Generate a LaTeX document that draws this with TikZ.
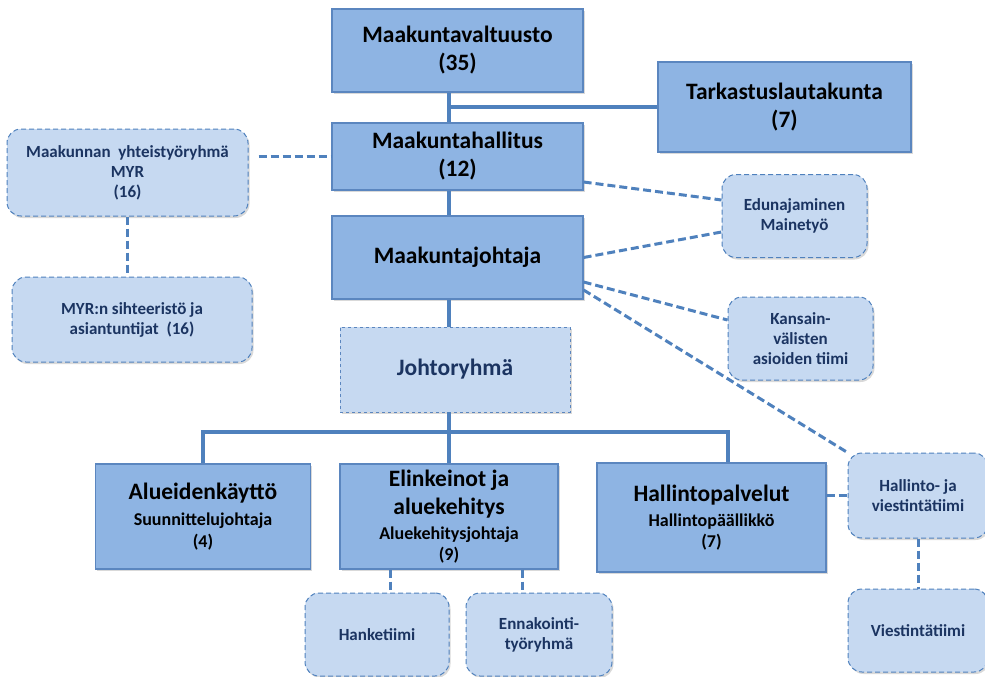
\documentclass[tikz,border=0pt]{standalone}
\usepackage{fontspec}
\setmainfont{Carlito}
\usetikzlibrary{positioning, shadows}

\definecolor{organfill}{HTML}{8EB4E3}
\definecolor{organline}{HTML}{5B86BF}
\definecolor{teamfill}{HTML}{C6D9F1}
\definecolor{linkblue}{HTML}{4F81BD}
\definecolor{teamtext}{HTML}{1B3461}

\newcommand{\subline}[1]{{\fontsize{18}{22}\selectfont #1}}

\begin{document}
\begin{tikzpicture}[x=1pt, y=-1pt,
      organ/.style={draw=organline, line width=1.2pt, fill=organfill, align=center, inner sep=2pt,
        font=\fontsize{23.5}{28}\selectfont\bfseries,
        drop shadow={shadow xshift=1.5pt, shadow yshift=-2pt, opacity=0.3}},
      groupbox/.style={organ, fill=teamfill, dashed, line width=0.9pt, text=teamtext},
      team/.style={draw=linkblue, line width=1pt, dash pattern=on 5pt off 3pt, fill=teamfill,
        rounded corners=14pt, align=center, inner sep=2pt, text=teamtext,
        font=\fontsize{17}{20}\selectfont\bfseries,
        drop shadow={shadow xshift=1.5pt, shadow yshift=-2pt, opacity=0.3}},
      orglink/.style={draw=linkblue, line width=3.2pt},
      teamlink/.style={draw=linkblue, line width=3pt, dash pattern=on 8pt off 4pt}
    ]
      \useasboundingbox (0,0) rectangle (985,677);

      % Elected bodies and management, top column
      \node[organ, minimum width=251, minimum height=83] (valtuusto) at (457.5,50.5) {Maakuntavaltuusto\\(35)};
      \node[organ, minimum width=253, minimum height=90] (tarkastus) at (784.5,107) {Tarkastuslautakunta\\(7)};
      \node[organ, minimum width=251, minimum height=67] (hallitus) at (457.5,156.5) {Maakuntahallitus\\(12)};
      \node[organ, minimum width=251, minimum height=83] (johtaja) at (457.5,257.5) {Maakuntajohtaja};
      \node[groupbox, minimum width=230, minimum height=85] (johtoryhma) at (455,369.5) {Johtoryhmä};

      % Units on the bottom row
      \node[organ, minimum width=215, minimum height=105] (alueet) at (203,516.5) {Alueidenkäyttö\\[-2pt]\subline{Suunnittelujohtaja}\\[-6pt]\subline{(4)}};
      \node[organ, minimum width=218, minimum height=105] (elinkeinot) at (449,516.5) {Elinkeinot ja\\aluekehitys\\[-3pt]\subline{Aluekehitysjohtaja}\\[-7pt]\subline{(9)}};
      \node[organ, minimum width=229, minimum height=109] (hallpalv) at (711.5,517.5) {Hallintopalvelut\\[-3pt]\subline{Hallintopäällikkö}\\[-7pt]\subline{(7)}};

      % Teams and working groups (dashed, rounded)
      \node[team, minimum width=241, minimum height=87] (myr) at (127.5,172.5) {Maakunnan\ \ yhteistyöryhmä\\MYR\\(16)};
      \node[team, minimum width=240, minimum height=85] (sihteeristo) at (132,319.5) {MYR:n sihteeristö ja\\asiantuntijat\ \ (16)};
      \node[team, minimum width=145, minimum height=83] (edunajaminen) at (794.5,216) {Edunajaminen\\Mainetyö};
      \node[team, minimum width=145, minimum height=83] (kansainval) at (800.5,338.5) {Kansain-\\välisten\\asioiden tiimi};
      \node[team, minimum width=140, minimum height=85] (hallviest) at (918,495.5) {Hallinto- ja\\viestintätiimi};
      \node[team, minimum width=140, minimum height=83] (viestinta) at (918,630.5) {Viestintätiimi};
      \node[team, minimum width=144, minimum height=83] (hanketiimi) at (377,634.5) {Hanketiimi};
      \node[team, minimum width=146, minimum height=83] (ennakointi) at (539,634.5) {Ennakointi-\\työryhmä};

      % Spine and bus of the line organisation
      \coordinate (spine) at (449,0);
      \coordinate (bus) at (449,432);
      \draw[orglink] (valtuusto.south -| spine) -- (hallitus.north -| spine);
      \draw[orglink] (hallitus.south -| spine) -- (johtaja.north -| spine);
      \draw[orglink] (johtaja.south -| spine) -- (johtoryhma.north -| spine);
      \draw[orglink] (tarkastus.west) -- (tarkastus.west -| spine);
      \draw[orglink] (johtoryhma.south -| spine) -- (elinkeinot.north -| spine);
      \draw[orglink] (alueet.north) |- (bus) -| ([xshift=16.5pt]hallpalv.north);

      % Dashed links to the teams
      \draw[teamlink] ([xshift=10pt]myr.east |- hallitus.west) -- (hallitus.west);
      \draw[teamlink] (myr.south) -- (myr.south |- sihteeristo.north);
      \draw[teamlink] ([yshift=-25.5pt]hallitus.east) -- ([yshift=16pt]edunajaminen.west);
      \draw[teamlink] (johtaja.east) -- ([yshift=-16pt]edunajaminen.west);
      \draw[teamlink] ([yshift=-24.5pt]johtaja.east) -- ([yshift=18.5pt]kansainval.west);
      \draw[teamlink] ([yshift=-32.5pt]johtaja.east) -- (hallviest.north west);
      \draw[teamlink] (hallpalv.east |- hallviest.west) -- (hallviest.west);
      \draw[teamlink] (hallviest.south) -- (viestinta.north);
      \draw[teamlink] ([xshift=-59pt]elinkeinot.south) coordinate (hanke_drop) -- (hanke_drop |- hanketiimi.north);
      \draw[teamlink] ([xshift=73pt]elinkeinot.south) coordinate (ennak_drop) -- (ennak_drop |- ennakointi.north);

    \end{tikzpicture}
\end{document}
